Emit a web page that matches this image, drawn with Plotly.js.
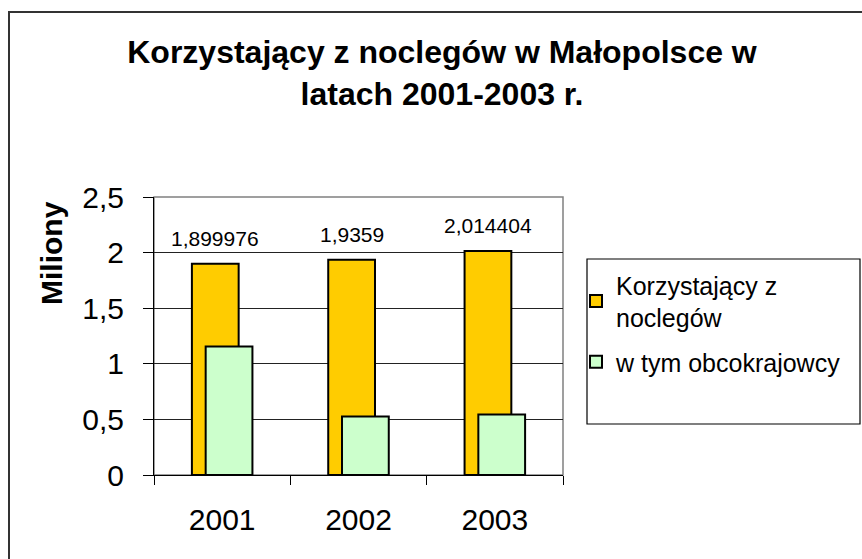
<!DOCTYPE html>
<html>
<head>
<meta charset="utf-8">
<script src="https://cdn.plot.ly/plotly-3.0.1.min.js"></script>
<style>
  html, body { margin: 0; padding: 0; background: #fff; }
  #chart { width: 862px; height: 559px; }
</style>
</head>
<body>
<div id="chart"></div>
<script>
// ---- data ----
const years = ['2001', '2002', '2003'];
const totalGuests = [1.899976, 1.9359, 2.014404];
const foreignGuests = [1.155, 0.525, 0.543];
const seriesNames = ['Korzystający z<br>noclegów', 'w tym obcokrajowcy'];
const yTickVals = [0, 0.5, 1, 1.5, 2, 2.5];
const titleText = 'Korzystający z noclegów w Małopolsce w<br>latach 2001-2003 r.';
const yTitleText = 'Miliony';

// ---- layout helpers ----
const W = 862, H = 559;
const M = { l: 154, r: 299, t: 197, b: 84 };
const pw = W - M.l - M.r, ph = H - M.t - M.b;
const px2x = p => (p - M.l) / pw;
const py2y = p => (H - M.b - p) / ph;
const FONT = 'Liberation Sans, Arial, sans-serif';

const barW = 0.343;
const offOrange = -0.222;
const offGreen = -0.121;

const fmt = v => String(v).replace('.', ',');

const traces = [
  {
    type: 'bar', x: years, y: totalGuests, name: seriesNames[0],
    width: barW, offset: offOrange, legendgroup: 'a',
    marker: { color: '#FFCC00', line: { color: '#000', width: 2 } },
    hoverinfo: 'x+y'
  },
  {
    type: 'bar', x: years, y: foreignGuests, name: seriesNames[1],
    width: barW, offset: offGreen, legendgroup: 'b',
    marker: { color: '#CCFFCC', line: { color: '#000', width: 2 } },
    hoverinfo: 'x+y'
  }
];

const annotations = totalGuests.map((v, i) => ({
  x: i + offOrange + barW / 2, y: v, xref: 'x', yref: 'y',
  text: fmt(v), showarrow: false, yanchor: 'bottom', yshift: 12,
  font: { family: FONT, size: 21, color: '#000' }
}));
annotations.push({
  xref: 'paper', yref: 'paper', x: px2x(51), y: py2y(253),
  text: yTitleText, textangle: -90, showarrow: false,
  xanchor: 'center', yanchor: 'middle',
  font: { family: FONT, size: 30, color: '#000', weight: 'bold' }
});

const shapes = [
  // outer chart border (left and top)
  { type: 'line', xref: 'paper', yref: 'paper', x0: px2x(9), x1: px2x(9), y0: py2y(11), y1: py2y(600),
    line: { color: '#333', width: 2 } },
  { type: 'line', xref: 'paper', yref: 'paper', x0: px2x(8), x1: px2x(900), y0: py2y(12), y1: py2y(12),
    line: { color: '#333', width: 2 } },
  // plot area border
  { type: 'rect', xref: 'paper', yref: 'paper', x0: 0, x1: 1, y0: 0, y1: 1,
    line: { color: '#808080', width: 1.5 }, layer: 'below' },
  // legend box
  { type: 'rect', xref: 'paper', yref: 'paper', x0: px2x(587), x1: px2x(860), y0: py2y(424), y1: py2y(259),
    line: { color: '#000', width: 1.2 } }
];

const layout = {
  width: W, height: H,
  margin: M,
  paper_bgcolor: '#fff', plot_bgcolor: '#fff',
  separators: ', ',
  barmode: 'overlay',
  font: { family: FONT, color: '#000' },
  title: {
    text: titleText, xref: 'container', yref: 'container',
    x: 442 / W, y: 1 - 63 / H, xanchor: 'center', yanchor: 'top',
    font: { family: FONT, size: 32, color: '#000', weight: 'bold' }
  },
  xaxis: {
    type: 'category', tickson: 'boundaries', ticks: 'outside', ticklen: 9,
    tickcolor: '#000', tickwidth: 1, showline: true, linecolor: '#000', linewidth: 1,
    showgrid: false, tickfont: { family: FONT, size: 30, color: '#000' },
    ticklabelstandoff: 18,
    range: [-0.5, 2.5], fixedrange: true
  },
  yaxis: {
    range: [0, 2.5], tickvals: yTickVals, ticks: 'outside', ticklen: 10,
    tickcolor: '#000', tickwidth: 1, showline: true, linecolor: '#000', linewidth: 1,
    showgrid: true, gridcolor: '#222', gridwidth: 1, zeroline: false,
    ticklabelstandoff: 13,
    tickfont: { family: FONT, size: 30, color: '#000' }, fixedrange: true
  },
  legend: {
    x: px2x(576), y: py2y(262), xanchor: 'left', yanchor: 'top',
    xref: 'paper', yref: 'paper',
    bgcolor: 'rgba(0,0,0,0)', borderwidth: 0,
    traceorder: 'grouped', tracegroupgap: 9,
    font: { family: FONT, size: 25, color: '#000' }
  },
  annotations: annotations,
  shapes: shapes
};

Plotly.newPlot('chart', traces, layout, { displayModeBar: false, staticPlot: true });
</script>
</body>
</html>
